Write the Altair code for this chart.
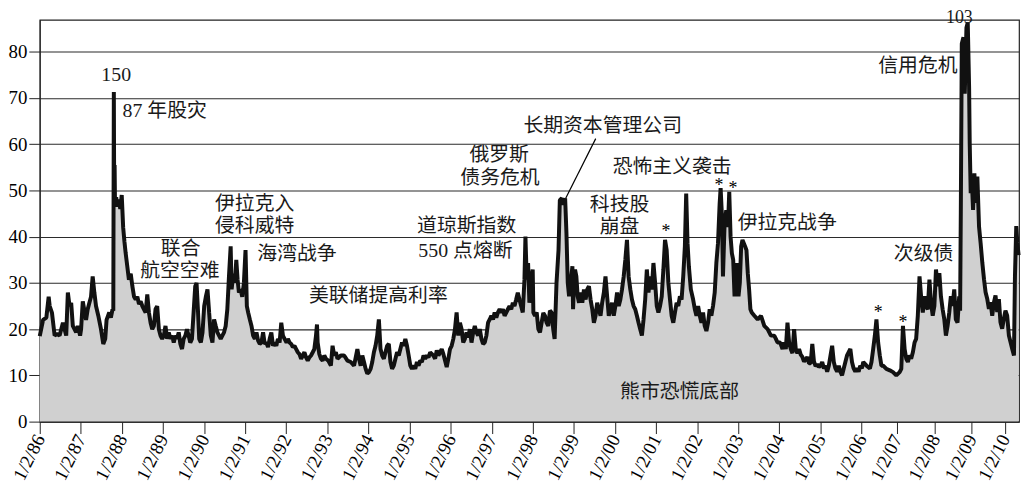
import altair as alt
import pandas as pd

# ---- VXO-style volatility series (decimal year, level) ----
vxo_years = [
    1986.000, 1986.081, 1986.161, 1986.217, 1986.242, 1986.298, 1986.362, 1986.419, 1986.483, 1986.523,
    1986.564, 1986.604, 1986.644, 1986.684, 1986.725, 1986.765, 1986.805, 1986.845, 1986.886, 1986.926, 1986.982,
    1987.006, 1987.047, 1987.087, 1987.127, 1987.167, 1987.208, 1987.248, 1987.288, 1987.329, 1987.369,
    1987.425, 1987.490, 1987.546, 1987.594, 1987.626, 1987.691, 1987.731, 1987.771, 1987.790, 1987.803,
    1987.812, 1987.822, 1987.832, 1987.860, 1987.890, 1987.925, 1987.960, 1987.995,
    1988.030, 1988.060, 1988.090, 1988.130, 1988.170, 1988.214, 1988.254, 1988.295, 1988.335, 1988.375,
    1988.415, 1988.456, 1988.496, 1988.536, 1988.577, 1988.617, 1988.657, 1988.697, 1988.738, 1988.778,
    1988.818, 1988.858, 1988.899, 1988.939, 1988.979,
    1989.019, 1989.060, 1989.100, 1989.140, 1989.180, 1989.221, 1989.261, 1989.301, 1989.341, 1989.382,
    1989.422, 1989.462, 1989.502, 1989.543, 1989.583, 1989.623, 1989.663, 1989.704, 1989.744, 1989.784,
    1989.816, 1989.849, 1989.881, 1989.921, 1989.961,
    1990.002, 1990.042, 1990.082, 1990.122, 1990.163, 1990.203, 1990.243, 1990.283, 1990.324, 1990.364,
    1990.404, 1990.444, 1990.485, 1990.525, 1990.565, 1990.605, 1990.646, 1990.670, 1990.710, 1990.750,
    1990.783, 1990.815, 1990.847, 1990.887, 1990.928, 1990.968,
    1991.008, 1991.040, 1991.072, 1991.113, 1991.153, 1991.193, 1991.233, 1991.274, 1991.314, 1991.354,
    1991.395, 1991.435, 1991.475, 1991.515, 1991.556, 1991.596, 1991.636, 1991.676, 1991.717, 1991.757,
    1991.797, 1991.837, 1991.878, 1991.918, 1991.958,
    1992.006, 1992.039, 1992.079, 1992.119, 1992.159, 1992.200, 1992.240, 1992.280, 1992.320, 1992.361,
    1992.401, 1992.441, 1992.481, 1992.522, 1992.562, 1992.602, 1992.643, 1992.683, 1992.723, 1992.747,
    1992.763, 1992.804, 1992.844, 1992.884, 1992.924, 1992.964,
    1993.021, 1993.085, 1993.126, 1993.166, 1993.206, 1993.246, 1993.327, 1993.408, 1993.488, 1993.569,
    1993.649, 1993.730, 1993.770, 1993.810, 1993.850, 1993.891, 1993.931, 1993.971,
    1994.011, 1994.052, 1994.092, 1994.132, 1994.172, 1994.213, 1994.253, 1994.293, 1994.333, 1994.374,
    1994.414, 1994.454, 1994.495, 1994.535, 1994.575, 1994.615, 1994.656, 1994.696, 1994.736, 1994.776,
    1994.817, 1994.857, 1994.897, 1994.937, 1994.978,
    1995.018, 1995.058, 1995.098, 1995.139, 1995.179, 1995.219, 1995.259, 1995.300, 1995.340, 1995.380,
    1995.420, 1995.461, 1995.501, 1995.541, 1995.581, 1995.622, 1995.662, 1995.702, 1995.743, 1995.783,
    1995.823, 1995.863, 1995.904, 1995.944, 1995.984,
    1996.024, 1996.065, 1996.105, 1996.145, 1996.185, 1996.226, 1996.266, 1996.306, 1996.346, 1996.387,
    1996.427, 1996.467, 1996.507, 1996.548, 1996.588, 1996.628, 1996.668, 1996.709, 1996.749, 1996.789,
    1996.829, 1996.870, 1996.910, 1996.950, 1996.990,
    1997.031, 1997.071, 1997.111, 1997.151, 1997.192, 1997.232, 1997.272, 1997.313, 1997.353, 1997.393,
    1997.433, 1997.474, 1997.514, 1997.554, 1997.594, 1997.634, 1997.675, 1997.715, 1997.755, 1997.796,
    1997.820, 1997.852, 1997.884, 1997.916, 1997.957, 1997.997,
    1998.013, 1998.053, 1998.094, 1998.134, 1998.174, 1998.214, 1998.255, 1998.295, 1998.335, 1998.375,
    1998.416, 1998.456, 1998.496, 1998.530, 1998.576, 1998.625, 1998.657, 1998.705, 1998.737, 1998.786,
    1998.818, 1998.850, 1998.882, 1998.922, 1998.963, 1998.979,
    1999.003, 1999.027, 1999.059, 1999.091, 1999.124, 1999.164, 1999.204, 1999.244, 1999.285, 1999.325,
    1999.365, 1999.405, 1999.446, 1999.486, 1999.526, 1999.566, 1999.607, 1999.647, 1999.687, 1999.728,
    1999.768, 1999.808, 1999.848, 1999.889, 1999.929, 1999.969,
    2000.009, 2000.050, 2000.090, 2000.130, 2000.170, 2000.211, 2000.251, 2000.291, 2000.331, 2000.372,
    2000.412, 2000.452, 2000.492, 2000.533, 2000.573, 2000.613, 2000.654, 2000.694, 2000.734, 2000.774,
    2000.815, 2000.855, 2000.895, 2000.935, 2000.976,
    2001.016, 2001.056, 2001.096, 2001.137, 2001.177, 2001.217, 2001.257, 2001.298, 2001.338, 2001.378,
    2001.418, 2001.459, 2001.499, 2001.539, 2001.579, 2001.620, 2001.660, 2001.700, 2001.732, 2001.765,
    2001.797, 2001.845, 2001.901, 2001.942, 2001.982,
    2002.022, 2002.063, 2002.103, 2002.143, 2002.183, 2002.224, 2002.264, 2002.304, 2002.345, 2002.385,
    2002.426, 2002.466, 2002.506, 2002.546, 2002.570, 2002.603, 2002.627, 2002.667, 2002.707, 2002.748,
    2002.780, 2002.812, 2002.844, 2002.876, 2002.909, 2002.941, 2002.973,
    2003.005, 2003.037, 2003.070, 2003.102, 2003.134, 2003.166, 2003.199, 2003.231, 2003.263, 2003.295,
    2003.327, 2003.392, 2003.472, 2003.553, 2003.633, 2003.714, 2003.794, 2003.875, 2003.915, 2003.955,
    2004.020, 2004.076, 2004.116, 2004.157, 2004.197, 2004.237, 2004.277, 2004.318, 2004.358, 2004.398,
    2004.438, 2004.479, 2004.519, 2004.559, 2004.599, 2004.640, 2004.680, 2004.720, 2004.761, 2004.801,
    2004.841, 2004.881, 2004.922, 2004.962,
    2005.002, 2005.042, 2005.083, 2005.123, 2005.163, 2005.203, 2005.244, 2005.284, 2005.324, 2005.364,
    2005.405, 2005.445, 2005.485, 2005.525, 2005.566, 2005.606, 2005.646, 2005.727, 2005.767, 2005.807,
    2005.848, 2005.888, 2005.928, 2005.968,
    2006.009, 2006.048, 2006.140, 2006.235, 2006.280, 2006.328, 2006.375, 2006.420, 2006.468, 2006.515,
    2006.560, 2006.610, 2006.700, 2006.796, 2006.888, 2006.980,
    2007.070, 2007.113, 2007.157, 2007.201, 2007.244, 2007.287, 2007.331, 2007.373, 2007.418, 2007.462,
    2007.504, 2007.548, 2007.593, 2007.634, 2007.679, 2007.723, 2007.765, 2007.809, 2007.854, 2007.896,
    2007.940, 2007.984,
    2008.027, 2008.074, 2008.120, 2008.163, 2008.210, 2008.256, 2008.300, 2008.346, 2008.392, 2008.436,
    2008.482, 2008.529, 2008.572, 2008.619, 2008.665, 2008.690, 2008.709, 2008.736, 2008.782, 2008.818,
    2008.864, 2008.900, 2008.937, 2008.954, 2008.981,
    2009.009, 2009.050, 2009.089, 2009.128, 2009.178, 2009.228, 2009.276, 2009.326, 2009.377, 2009.424,
    2009.475, 2009.524, 2009.573, 2009.623, 2009.674, 2009.721, 2009.772, 2009.822, 2009.869, 2009.920,
    2009.970,
    2010.018, 2010.068, 2010.118, 2010.165, 2010.215, 2010.265, 2010.294, 2010.332, 2010.362, 2010.400,
]

vxo_values = [
    18.5, 22.0, 22.5, 27.0, 25.0, 23.5, 18.6, 19.0, 18.6, 20.0,
    21.4, 20.0, 18.6, 27.9, 25.0, 25.7, 20.7, 20.0, 19.3, 20.7, 18.6,
    20.0, 26.0, 24.0, 22.0, 24.3, 25.7, 27.0, 31.4, 27.9, 25.0,
    22.9, 20.0, 16.8, 17.9, 22.0, 23.6, 22.5, 24.3, 24.0, 71.3,
    48.0, 55.5, 46.5, 48.5, 46.5, 48.0, 46.0, 49.0,
    42.0, 39.0, 36.5, 33.6, 30.7, 32.0, 29.3, 27.0, 26.4, 27.0,
    25.4, 26.0, 25.0, 24.3, 23.6, 27.5, 23.6, 21.4, 20.0, 20.7,
    24.3, 25.0, 20.0, 18.6, 17.9,
    18.6, 20.7, 17.9, 19.3, 17.9, 18.6, 17.1, 18.6, 17.9, 19.3,
    16.8, 15.7, 17.9, 18.6, 20.0, 18.6, 17.1, 17.9, 23.6, 29.3,
    30.0, 24.3, 17.9, 17.1, 19.3,
    25.0, 27.0, 28.6, 23.6, 18.6, 17.1, 22.1, 20.7, 19.3, 18.6,
    17.9, 18.6, 19.3, 20.7, 24.3, 31.4, 37.9, 28.6, 32.0, 30.0,
    35.0, 30.7, 27.9, 28.6, 27.0, 30.0,
    37.1, 25.0, 23.6, 22.1, 20.7, 18.6, 17.9, 19.3, 17.5, 16.8,
    17.1, 19.3, 16.8, 17.1, 16.1, 17.9, 19.3, 16.4, 17.1, 16.4,
    17.9, 17.1, 21.4, 18.6, 17.9,
    17.1, 17.9, 17.1, 16.8, 16.1, 16.4, 15.7, 15.0, 14.6, 13.6,
    14.3, 15.0, 13.9, 13.2, 13.9, 14.3, 15.0, 15.7, 18.6, 21.0,
    17.1, 14.6, 13.6, 13.2, 14.3, 13.6,
    13.2, 12.1, 16.4, 14.3, 15.0, 13.6, 14.3, 14.3, 13.2, 12.9,
    12.1, 15.7, 13.6, 12.1, 14.3, 12.9, 11.4, 10.4,
    10.7, 11.4, 12.9, 15.0, 16.4, 18.6, 22.1, 15.7, 14.3, 13.6,
    15.0, 16.4, 16.8, 12.9, 11.4, 12.1, 13.6, 15.0, 14.3, 15.7,
    17.1, 16.4, 17.9, 16.4, 14.3,
    12.1, 11.4, 12.1, 11.4, 12.9, 12.1, 13.2, 12.9, 14.3, 13.6,
    14.3, 13.9, 15.0, 14.6, 14.3, 13.6, 15.4, 14.3, 15.0, 15.7,
    14.6, 13.2, 11.8, 13.6, 15.7,
    16.4, 17.9, 20.0, 23.6, 18.6, 21.4, 20.0, 17.1, 17.9, 19.3,
    18.2, 20.0, 17.1, 19.3, 20.7, 19.3, 18.6, 20.0, 17.9, 16.8,
    17.1, 18.6, 21.4, 22.1, 22.9,
    22.1, 23.6, 22.5, 23.6, 24.3, 23.6, 24.3, 22.9, 23.6, 24.3,
    25.0, 24.3, 25.7, 25.0, 26.4, 27.9, 26.4, 25.0, 23.6, 30.7,
    40.0, 30.7, 34.3, 25.7, 30.7, 32.9,
    23.6, 22.9, 23.6, 20.0, 19.3, 21.4, 23.5, 22.9, 21.4, 20.7,
    24.0, 23.6, 20.0, 17.9, 30.0, 37.1, 47.9, 48.3, 46.9, 48.3,
    40.7, 30.0, 27.1, 30.0, 33.6, 24.3,
    30.0, 32.9, 31.4, 27.1, 25.7, 27.9, 25.7, 28.6, 26.4, 28.6,
    29.3, 26.4, 24.3, 21.4, 22.9, 25.7, 24.3, 22.9, 25.7, 27.9,
    31.4, 27.1, 22.9, 24.3, 25.7, 22.9,
    25.0, 27.9, 25.0, 26.4, 28.6, 31.4, 35.0, 39.3, 31.4, 28.6,
    26.4, 25.0, 24.3, 22.9, 21.4, 20.0, 18.6, 22.1, 26.4, 32.9,
    27.9, 31.4, 28.6, 34.3, 30.0,
    25.0, 23.6, 25.0, 27.1, 32.9, 39.3, 37.1, 30.0, 26.4, 22.9,
    21.4, 23.6, 25.7, 25.0, 27.1, 26.4, 31.4, 37.9, 49.3, 38.6,
    33.6, 28.6, 26.4, 24.3, 22.9,
    25.0, 22.9, 21.4, 23.6, 20.7, 19.6, 21.4, 24.3, 22.9, 25.0,
    27.9, 34.3, 38.6, 47.1, 50.5, 44.3, 31.4, 42.9, 45.7, 42.1,
    49.7, 40.0, 36.4, 35.0, 27.1, 32.9, 34.3,
    27.1, 30.0, 37.9, 39.3, 38.6, 37.9, 37.1, 32.1, 28.6, 24.3,
    23.6, 22.9, 22.1, 22.9, 20.7, 20.0, 18.6, 18.6, 17.9, 17.1,
    17.1, 15.7, 17.1, 15.7, 21.4, 17.1, 15.7, 14.8, 20.0, 15.7,
    14.8, 15.7, 14.5, 14.0, 13.0, 13.4, 14.0, 12.6, 12.6, 16.8,
    13.0, 12.0, 12.4, 11.8,
    12.1, 12.9, 11.5, 12.1, 10.8, 12.1, 14.3, 16.4, 12.9, 11.5,
    10.8, 12.1, 10.8, 10.0, 11.5, 12.9, 14.3, 15.7, 12.9, 11.5,
    10.8, 11.5, 10.8, 12.1,
    11.5, 12.9, 12.1, 11.5, 12.9, 15.7, 18.6, 22.1, 17.1, 14.3,
    12.1, 12.1, 11.4, 11.1, 10.7, 10.0,
    10.7, 11.4, 20.7, 15.7, 13.6, 12.9, 14.3, 13.6, 15.0, 17.1,
    17.9, 22.9, 31.4, 27.1, 23.6, 27.1, 25.0, 24.3, 30.7, 25.7,
    22.9, 25.0,
    32.9, 29.3, 32.1, 27.1, 24.3, 22.1, 18.6, 20.7, 23.6, 27.1,
    25.0, 28.6, 22.1, 21.4, 27.1, 24.0, 45.0, 81.7, 83.1, 70.9,
    85.2, 86.3, 72.3, 60.1, 49.4,
    53.0, 45.8, 53.7, 47.3, 53.0, 42.2, 38.6, 34.4, 30.8, 28.0,
    26.5, 24.4, 25.8, 22.9, 25.8, 27.3, 23.7, 26.5, 21.5, 20.1,
    22.2,
    24.0, 22.9, 18.6, 17.2, 15.7, 14.3, 31.5, 42.3, 38.7, 36.0,
]

# ---- axis ticks (each tick is 1/2 of the year) ----
tick_years = list(range(1986, 2011))
y_ticks = [0, 10, 20, 30, 40, 50, 60, 70, 80]

# ---- annotations (text labels) ----
ann_text = ["150", "87 年股灾", "联合", "航空空难", "伊拉克入", "侵科威特", "海湾战争",
            "美联储提高利率", "道琼斯指数", "550 点熔断", "俄罗斯", "债务危机",
            "长期资本管理公司", "科技股", "崩盘", "恐怖主义袭击",
            "伊拉克战争", "次级债", "信用危机", "熊市恐慌底部"]
ann_year = [1987.86, 1989.04, 1989.43, 1989.41, 1991.23, 1991.23, 1992.26,
            1994.24, 1996.39, 1996.36, 1997.18, 1997.20,
            1999.70, 2000.11, 2000.11, 2001.39,
            2004.19, 2007.70, 2007.55, 2001.57]
ann_value = [75.0, 67.2, 37.3, 32.5, 47.1, 42.3, 36.3,
             27.1, 42.3, 36.8, 57.6, 52.6,
             64.0, 46.8, 42.1, 55.1,
             43.0, 36.3, 76.9, 6.5]

# peak label of the 2008 credit crisis, sitting just above the frame
peak_text = ["103"]
peak_year = [2008.67]
peak_value = [87.3]

# ---- asterisk markers over individual spikes ----
star_year = [2001.24, 2002.53, 2002.87, 2006.47, 2007.16]
star_value = [40.9, 50.9, 50.3, 23.4, 21.3]

leader_year = [1999.53, 1998.80]
leader_value = [61.2, 48.3]

series = pd.DataFrame({"year": vxo_years, "value": vxo_values})
ann = pd.DataFrame({"year": ann_year, "value": ann_value, "label": ann_text})
peak = pd.DataFrame({"year": peak_year, "value": peak_value, "label": peak_text})
stars = pd.DataFrame({"year": star_year, "value": star_value, "label": ["*"] * len(star_year)})
leader = pd.DataFrame({"year": [leader_year[0]], "year2": [leader_year[1]],
                       "value": [leader_value[0]], "value2": [leader_value[1]]})

SERIF = "Liberation Serif, DejaVu Serif, Noto Sans CJK SC, serif"

# the reference's time axis is compressed after 2006: piecewise linear scale
x_scale = alt.Scale(domain=[1986, 2006, 2007, 2008, 2009, 2010, 2010.412],
                    range=[0, 828.3, 864, 902.3, 939, 972.7, 987], nice=False, zero=False)
y_scale = alt.Scale(domain=[0, 86.9], nice=False, zero=True)

x_axis = alt.Axis(values=tick_years,
                  labelExpr="'1/2/' + substring(toString(datum.value), 2, 4)",
                  labelAngle=297, labelAlign="right", labelBaseline="middle",
                  tickSize=12, labelPadding=2, grid=False, title=None, labelFlush=False,
                  labelOverlap=False, labelFont=SERIF, labelFontSize=19,
                  labelColor="black", tickColor="#222", domainColor="#222", zindex=1)
y_axis = alt.Axis(values=y_ticks, grid=True, gridColor="#2b2b2b", gridWidth=1.1, tickSize=11,
                  labelPadding=2, title=None, labelFont=SERIF, labelFontSize=19,
                  labelColor="black", tickColor="#222", domainColor="#222")


def X(field):
    return alt.X(field, type="quantitative", scale=x_scale, axis=x_axis)


def Y(field):
    return alt.Y(field, type="quantitative", scale=y_scale, axis=y_axis)


area = alt.Chart(series).mark_area(color="#d0d0d0", opacity=1).encode(x=X("year"), y=Y("value"))
line = alt.Chart(series).mark_line(color="#111111", strokeWidth=4, strokeJoin="bevel").encode(
    x=X("year"), y=Y("value"))
texts = alt.Chart(ann).mark_text(font=SERIF, fontSize=20, color="#1a1a1a", align="center",
                                 baseline="middle").encode(x=X("year"), y=Y("value"), text="label:N")
peak_mark = alt.Chart(peak).mark_text(font=SERIF, fontSize=18, color="#1a1a1a", align="center",
                                      baseline="middle").encode(x=X("year"), y=Y("value"),
                                                                text="label:N")
star_marks = alt.Chart(stars).mark_text(font=SERIF, fontSize=18, color="black", align="center",
                                        baseline="middle").encode(x=X("year"), y=Y("value"),
                                                                  text="label:N")
rule = alt.Chart(leader).mark_rule(color="black", strokeWidth=1.2).encode(
    x=X("year"), x2="year2:Q", y=Y("value"), y2="value2:Q")

chart = alt.layer(area, line, rule, texts, peak_mark, star_marks).properties(
    width=987, height=405,
    padding={"left": 32, "top": 10, "right": 3, "bottom": 64},
    autosize=alt.AutoSizeParams(type="none"),
    background="white",
).configure_view(stroke="#222", strokeWidth=1.2)

chart.save("out.html", embed_options={"renderer": "svg", "actions": False})
